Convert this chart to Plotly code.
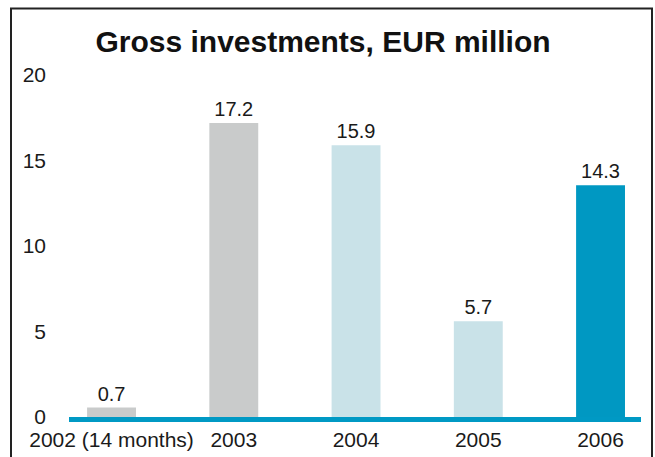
import plotly.graph_objects as go

categories = ["2002 (14 months)", "2003", "2004", "2005", "2006"]
bar_heights = [0.55, 17.2, 15.9, 5.6, 13.55]
label_texts = ["0.7", "17.2", "15.9", "5.7", "14.3"]
bar_colors = ["#c9cbcb", "#c9cbcb", "#c9e2e8", "#c9e2e8", "#0098c2"]
y_ticks = [0, 5, 10, 15, 20]

FONT = "Liberation Sans, Arial, sans-serif"

PL, PR, PT, PB = 69, 641, 66, 417
W, H = 655, 457

fig = go.Figure()
fig.add_trace(go.Bar(
    x=categories,
    y=bar_heights,
    text=label_texts,
    textposition="outside",
    textfont=dict(family=FONT, size=20, color="#1a1a1a"),
    marker=dict(color=bar_colors, line=dict(width=0)),
    width=0.4,
    cliponaxis=False,
    hoverinfo="skip",
))

fig.update_layout(
    width=W,
    height=H,
    autosize=False,
    margin=dict(l=PL, r=W - PR, t=PT, b=H - PB, pad=0, autoexpand=False),
    paper_bgcolor="white",
    plot_bgcolor="white",
    showlegend=False,
    title=dict(
        text="<b>Gross investments, EUR million</b>",
        font=dict(family=FONT, size=30, color="#111111"),
        x=323 / W, xanchor="center",
        y=1 - 41 / H, yanchor="middle",
    ),
    xaxis=dict(
        type="category",
        categoryorder="array",
        categoryarray=categories,
        range=[-0.348, 4.331],
        automargin=False,
        showline=True,
        linecolor="#0099c4",
        linewidth=5,
        showgrid=False,
        zeroline=False,
        ticks="",
        tickfont=dict(family=FONT, size=21, color="#1a1a1a"),
    ),
    yaxis=dict(
        range=[0, 20.53],
        tickvals=y_ticks,
        automargin=False,
        showgrid=False,
        zeroline=False,
        showline=False,
        ticks="",
        ticklabelstandoff=22,
        tickfont=dict(family=FONT, size=21, color="#1a1a1a"),
    ),
    shapes=[dict(
        type="rect", xref="paper", yref="paper",
        x0=(11 - PL) / (PR - PL), x1=(652 - PL) / (PR - PL),
        y0=-0.3, y1=(PB - 8.5) / (PB - PT),
        line=dict(color="#222222", width=2),
        fillcolor="rgba(0,0,0,0)",
        layer="above",
    )],
)

fig.write_html(
    "out.html",
    config={"displayModeBar": False, "responsive": False, "staticPlot": True},
    post_script="document.body.style.margin='0';document.documentElement.style.overflow='hidden';",
)
